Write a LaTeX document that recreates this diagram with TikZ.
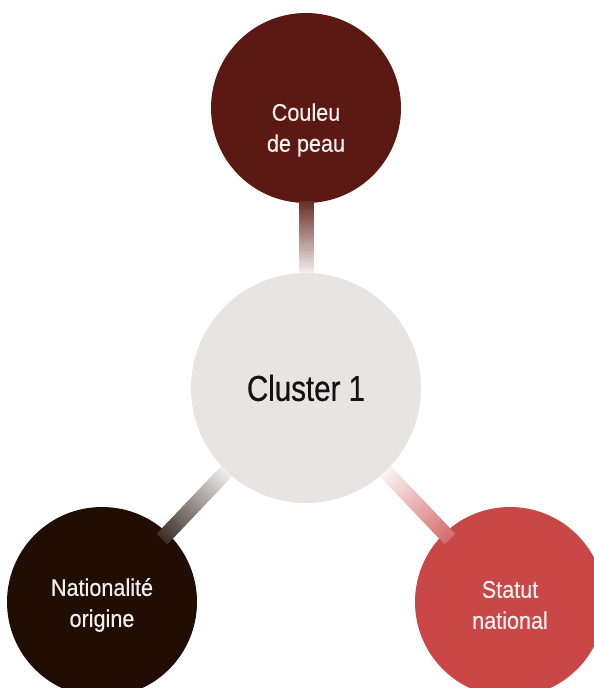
\documentclass[tikz,border=0pt]{standalone}
\usepackage{fontspec}
\setmainfont{Liberation Sans}[FakeStretch=0.9, FakeBold=0.4]
\newfontfamily\bigf{Liberation Sans}[FakeStretch=0.82, FakeBold=0.5]
\usetikzlibrary{calc}
\definecolor{cTop}{HTML}{5C1913}
\definecolor{cDark}{HTML}{200E04}
\definecolor{cRed}{HTML}{C94747}
\definecolor{cMid}{HTML}{E6E5E4}
\definecolor{cLab}{HTML}{F4F0EE}
\pgfdeclarelayer{back}
\pgfdeclarelayer{mid}
\pgfsetlayers{back,mid,main}
\tikzset{
  outer/.style={circle, inner sep=0pt, minimum size=190pt},
  lab/.style={text=cLab, font=\fontsize{24}{31}\selectfont, align=center, inner sep=0pt},
  band/.style={line width=15pt, line cap=butt},
}
\begin{document}
\begin{tikzpicture}[x=1pt, y=-1pt]
\useasboundingbox (0,0) rectangle (594,688);
\clip (0,0) rectangle (594,688);
\begin{pgfonlayer}{back}
  \node[outer, fill=cTop]  (top) at (306,108) {};
  \node[outer, fill=cDark] (bl)  at (102,602) {};
  \node[outer, fill=cRed]  (br)  at (510,602) {};
\end{pgfonlayer}
\node[circle, inner sep=0pt, minimum size=230pt, fill=cMid, text=black!93,
      font=\bigf\fontsize{36}{40}\selectfont] (ctr) at (306,388) {Cluster 1};
\begin{pgfonlayer}{mid}
\foreach \o/\c/\s/\d in {top/cTop/93/2, bl/cDark/88/8, br/cRed/80/8}{
  \pgfmathsetmacro\dd{95-\d}
  \coordinate (\o-a) at ($(\o.center)!\dd pt!(ctr.center)$);
  \coordinate (\o-b) at ($(ctr.center)!112pt!(\o.center)$);
  \foreach \i in {0,...,39}{
    \pgfmathsetmacro\ta{\i/40}
    \pgfmathsetmacro\tb{min((\i+1.4)/40,1)}
    \pgfmathtruncatemacro\pc{\s-(\s-4)*(\i+0.5)/40}
    \draw[band, draw=\c!\pc!white] ($(\o-a)!\ta!(\o-b)$) -- ($(\o-a)!\tb!(\o-b)$);
  }
}
\end{pgfonlayer}
\node[lab] (toplab) at (306,130) {Couleu\\de peau};
\node[lab] (bllab) at (102,605) {Nationalité\\origine};
\node[lab] (brlab) at (510,605) {Statut\\national};
\end{tikzpicture}
\end{document}
